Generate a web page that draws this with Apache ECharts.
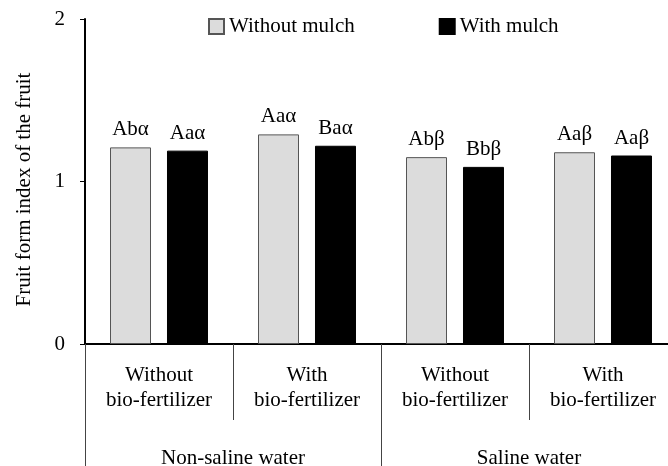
<!DOCTYPE html>
<html>
<head>
<meta charset="utf-8">
<script src="https://cdn.jsdelivr.net/npm/echarts@6/dist/echarts.min.js"></script>
<style>html,body{margin:0;padding:0;background:#fff}#c{width:668px;height:466px}</style>
</head>
<body>
<div id="c"></div>
<script>
const subCategories = ['Without\nbio-fertilizer', 'With\nbio-fertilizer', 'Without\nbio-fertilizer', 'With\nbio-fertilizer'];
const mainCategories = ['Non-saline water', 'Saline water'];
const seriesNames = ['Without mulch', 'With mulch'];
const withoutMulch = [1.21, 1.29, 1.15, 1.18];
const withMulch = [1.19, 1.22, 1.09, 1.16];
const withoutMulchLabels = ['Ab\u03b1', 'Aa\u03b1', 'Ab\u03b2', 'Aa\u03b2'];
const withMulchLabels = ['Aa\u03b1', 'Ba\u03b1', 'Bb\u03b2', 'Aa\u03b2'];
const yTicks = [0, 1, 2];

const FONT = '"Liberation Serif", "Times New Roman", serif';
const FS = 21;
const chart = echarts.init(document.getElementById('c'), null, {renderer: 'canvas'});
chart.setOption({
  animation: false,
  textStyle: {fontFamily: FONT, color: '#000'},
  legend: {
    left: 203, top: 11,
    icon: 'rect', itemWidth: 15, itemHeight: 15, itemGap: 84,
    textStyle: {fontFamily: FONT, fontSize: FS, color: '#000'},
    data: seriesNames
  },
  grid: {left: 85, top: 19, height: 325, width: 592, outerBoundsMode: 'none', containLabel: false},
  xAxis: [{
    type: 'category', data: subCategories, position: 'bottom',
    axisLine: {show: true, lineStyle: {color: '#000', width: 2}},
    axisTick: {show: true, inside: false, length: 76, interval: 0, lineStyle: {color: '#444', width: 1}},
    axisLabel: {interval: 0, margin: 19, fontFamily: FONT, fontSize: FS, lineHeight: 25, color: '#000'}
  }, {
    type: 'category', data: mainCategories, position: 'bottom',
    axisLine: {show: false},
    axisTick: {show: true, inside: false, length: 125, interval: 0, lineStyle: {color: '#444', width: 1}},
    axisLabel: {interval: 0, margin: 104, fontFamily: FONT, fontSize: FS, lineHeight: 20, color: '#000'}
  }],
  yAxis: {
    type: 'value', min: yTicks[0], max: yTicks[yTicks.length - 1], interval: 1,
    name: 'Fruit form index of the fruit', nameLocation: 'middle', nameGap: 50,
    nameTextStyle: {fontFamily: FONT, fontSize: FS, color: '#000', padding: [0, 16, 0, 0]},
    axisLine: {show: true, lineStyle: {color: '#000', width: 2}},
    axisTick: {show: true, inside: false, length: 5, lineStyle: {color: '#000', width: 1}},
    axisLabel: {margin: 20, fontFamily: FONT, fontSize: FS, color: '#000'},
    splitLine: {show: false}
  },
  series: [{
    name: seriesNames[0], type: 'bar', xAxisIndex: 0, data: withoutMulch,
    barWidth: 41, barGap: '39%',
    itemStyle: {color: '#dcdcdc', borderColor: '#555', borderWidth: 1},
    label: {show: true, position: 'top', distance: 7, fontFamily: FONT, fontSize: FS, color: '#000',
      formatter: p => withoutMulchLabels[p.dataIndex]}
  }, {
    name: seriesNames[1], type: 'bar', xAxisIndex: 0, data: withMulch,
    barWidth: 41, barGap: '39%',
    itemStyle: {color: '#000', borderColor: '#000', borderWidth: 1},
    label: {show: true, position: 'top', distance: 7, fontFamily: FONT, fontSize: FS, color: '#000',
      formatter: p => withMulchLabels[p.dataIndex]}
  }]
});
</script>
</body>
</html>
